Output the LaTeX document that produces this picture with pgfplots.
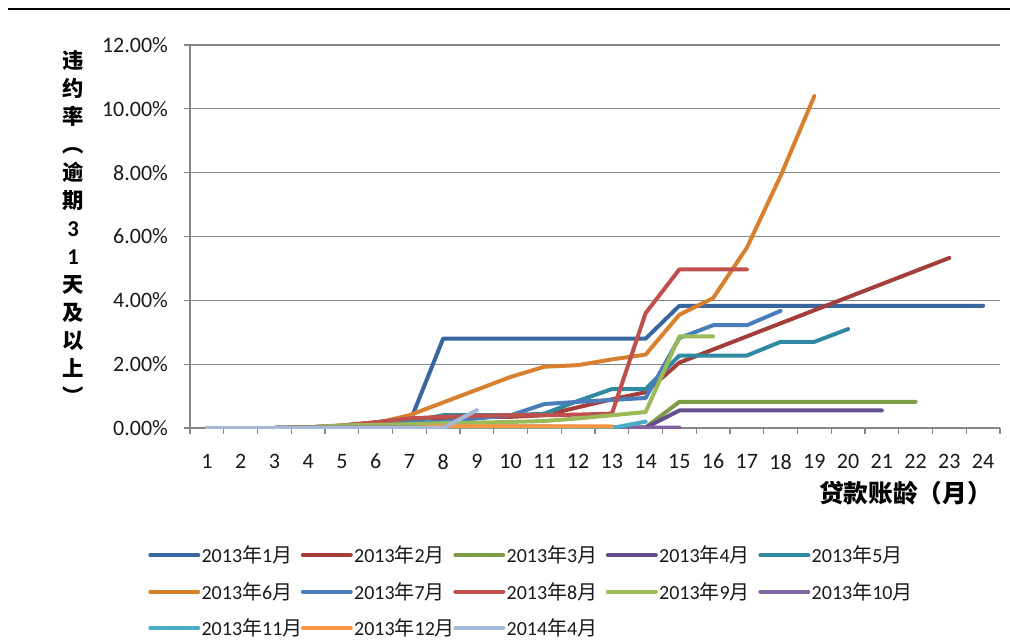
\documentclass[border=0pt]{standalone}
\usepackage{fontspec}
\setmainfont{Carlito}
\newfontfamily\cjk{Noto Sans CJK SC}
\usepackage{pgfplots}
\pgfplotsset{compat=1.18}
\definecolor{gridc}{RGB}{134,134,134}
\definecolor{c1}{RGB}{58,102,160}
\definecolor{c2}{RGB}{164,62,59}
\definecolor{c3}{RGB}{127,157,70}
\definecolor{c4}{RGB}{102,78,140}
\definecolor{c5}{RGB}{47,138,160}
\definecolor{c6}{RGB}{215,128,47}
\definecolor{c7}{RGB}{74,126,187}
\definecolor{c8}{RGB}{192,80,77}
\definecolor{c9}{RGB}{155,187,89}
\definecolor{c10}{RGB}{128,100,162}
\definecolor{c11}{RGB}{75,172,198}
\definecolor{c12}{RGB}{247,150,70}
\definecolor{c13}{RGB}{167,185,217}
\newcommand\ym[2]{#1{\cjk 年}#2{\cjk 月}}
\newcommand\legtxt[2]{\makebox[74.4pt][l]{\ym{#1}{#2}}}
\begin{document}
\begin{tikzpicture}
\useasboundingbox (0,0) rectangle (757.5pt,-479.25pt);
\draw[line width=1.5pt] (6pt,-6.75pt) -- (757.5pt,-6.75pt);
\begin{axis}[
  at={(142.5pt,-321pt)}, anchor=south west, scale only axis,
  width=607.5pt, height=287.25pt,
  xmin=0.5, xmax=24.5, ymin=0, ymax=12,
  axis x line*=bottom, axis y line*=left,
  axis line style={draw=gridc, line width=0.9pt},
  tick align=outside, major tick length=4.5pt,
  tick style={draw=gridc, line width=0.9pt},
  xtick={0.5,1.5,...,24.5}, xticklabels={},
  extra x ticks={1,2,...,24},
  extra x tick labels={1,2,3,4,5,6,7,8,9,10,11,12,13,14,15,16,17,18,19,20,21,22,23,24},
  extra x tick style={major tick length=0pt, xticklabel style={yshift=-16pt}},
  ytick={0,2,...,12},
  yticklabels={0.00\%,2.00\%,4.00\%,6.00\%,8.00\%,10.00\%,12.00\%},
  yticklabel style={xshift=-8.5pt},
  ymajorgrids, grid style={draw=gridc, line width=0.9pt},
  ticklabel style={font=\fontsize{16.5}{18}\selectfont, text=black!90},
  every axis plot/.append style={line width=3pt, line join=round, line cap=round, mark=none},
  legend columns=5, legend cell align=left,
  legend style={at={(axis description cs:-0.05185,-0.2838)}, anchor=north west,
    draw=none, fill=none, inner sep=0pt, row sep=0pt,
    nodes={inner sep=0pt, minimum height=27.4pt, font=\fontsize{15}{17}\selectfont, text=black!90},
    /tikz/every odd column/.style={column sep=1pt},
    /tikz/every even column/.style={column sep=0pt}},
  legend image code/.code={\draw[#1] (0pt,0pt) -- (36pt,0pt);},
]
\addplot[c1] coordinates {(1,0)(2,0)(3,0)(4,0.01)(5,0.05)(6,0.1)(7,0.15)(8,2.8)(9,2.8)(10,2.8)(11,2.8)(12,2.8)(13,2.8)(14,2.8)(15,3.83)(16,3.83)(17,3.83)(18,3.83)(19,3.83)(20,3.83)(21,3.83)(22,3.83)(23,3.83)(24,3.83)};
\addlegendentry{\legtxt{2013}{1}}
\addplot[c2] coordinates {(1,0)(2,0)(3,0)(4,0.02)(5,0.08)(6,0.18)(7,0.28)(8,0.32)(9,0.35)(10,0.35)(11,0.4)(12,0.65)(13,0.9)(14,1.12)(15,2.05)(16,2.46)(17,2.87)(18,3.28)(19,3.69)(20,4.1)(21,4.51)(22,4.92)(23,5.33)};
\addlegendentry{\legtxt{2013}{2}}
\addplot[c3] coordinates {(1,0)(2,0)(3,0)(4,0.01)(5,0.04)(6,0.05)(7,0.05)(8,0.05)(9,0.05)(10,0.05)(11,0.05)(12,0.04)(13,0.03)(14,0.02)(15,0.82)(16,0.82)(17,0.82)(18,0.82)(19,0.82)(20,0.82)(21,0.82)(22,0.82)};
\addlegendentry{\legtxt{2013}{3}}
\addplot[c4] coordinates {(1,0)(2,0)(3,0)(4,0.01)(5,0.02)(6,0.02)(7,0.02)(8,0.02)(9,0.02)(10,0.02)(11,0.02)(12,0.01)(13,0.01)(14,0.01)(15,0.55)(16,0.55)(17,0.55)(18,0.55)(19,0.55)(20,0.55)(21,0.55)};
\addlegendentry{\legtxt{2013}{4}}
\addplot[c5] coordinates {(1,0)(2,0)(3,0)(4,0.02)(5,0.06)(6,0.12)(7,0.2)(8,0.4)(9,0.4)(10,0.4)(11,0.45)(12,0.85)(13,1.22)(14,1.22)(15,2.27)(16,2.27)(17,2.27)(18,2.7)(19,2.7)(20,3.1)};
\addlegendentry{\legtxt{2013}{5}}
\addplot[c6] coordinates {(1,0)(2,0)(3,0)(4,0.02)(5,0.07)(6,0.15)(7,0.4)(8,0.8)(9,1.2)(10,1.6)(11,1.92)(12,1.97)(13,2.15)(14,2.3)(15,3.55)(16,4.07)(17,5.65)(18,7.9)(19,10.4)};
\addlegendentry{\legtxt{2013}{6}}
\addplot[c7] coordinates {(1,0)(2,0)(3,0)(4,0.02)(5,0.05)(6,0.1)(7,0.15)(8,0.2)(9,0.3)(10,0.4)(11,0.75)(12,0.82)(13,0.88)(14,0.94)(15,2.82)(16,3.22)(17,3.22)(18,3.67)};
\addlegendentry{\legtxt{2013}{7}}
\addplot[c8] coordinates {(1,0)(2,0)(3,0)(4,0.02)(5,0.07)(6,0.18)(7,0.3)(8,0.35)(9,0.38)(10,0.4)(11,0.4)(12,0.42)(13,0.45)(14,3.6)(15,4.97)(16,4.97)(17,4.97)};
\addlegendentry{\legtxt{2013}{8}}
\addplot[c9] coordinates {(1,0)(2,0)(3,0)(4,0.02)(5,0.08)(6,0.1)(7,0.12)(8,0.15)(9,0.17)(10,0.19)(11,0.22)(12,0.3)(13,0.4)(14,0.5)(15,2.87)(16,2.87)};
\addlegendentry{\legtxt{2013}{9}}
\addplot[c10] coordinates {(1,0)(2,0)(3,0)(4,0.01)(5,0.01)(6,0.01)(7,0.01)(8,0.01)(9,0.01)(10,0.01)(11,0.01)(12,0.01)(13,0.01)(14,0.01)(15,0.01)};
\addlegendentry{\legtxt{2013}{10}}
\addplot[c11] coordinates {(1,0)(2,0)(3,0)(4,0)(5,0)(6,0)(7,0)(8,0)(9,0)(10,0)(11,0)(12,0)(13,0)(14,0.2)};
\addlegendentry{\legtxt{2013}{11}}
\addplot[c12] coordinates {(1,0)(2,0)(3,0)(4,0)(5,0)(6,0)(7,0)(8,0.05)(9,0.05)(10,0.05)(11,0.05)(12,0.05)(13,0.05)};
\addlegendentry{\legtxt{2013}{12}}
\addplot[c13] coordinates {(1,0)(2,0)(3,0)(4,0)(5,0)(6,0)(7,0)(8,0)(9,0.56)};
\addlegendentry{\legtxt{2014}{4}}
\end{axis}
\node[anchor=north, align=center, inner sep=0pt, font=\fontsize{16}{21}\selectfont\bfseries\cjk] at (54.75pt,-37.5pt)
  {违\\约\\率\\︵\\逾\\期\\{\rmfamily\bfseries\fontsize{17}{21}\selectfont 3}\\{\rmfamily\bfseries\fontsize{17}{21}\selectfont 1}\\天\\及\\以\\上\\︶};
\node[font=\fontsize{18.5}{20}\selectfont\bfseries\cjk] at (679pt,-369.75pt) {贷款账龄（月）};
\end{tikzpicture}
\end{document}
